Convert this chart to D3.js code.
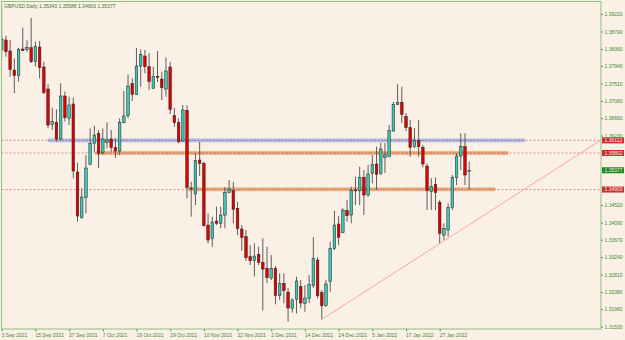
<!DOCTYPE html>
<html>
<head>
<meta charset="utf-8">
<script src="https://cdn.jsdelivr.net/npm/d3@7"></script>
<style>
  html, body { margin: 0; padding: 0; background: #faf0e6; }
  svg { display: block; }
  text { font-family: "Liberation Sans", Arial, sans-serif; }
</style>
</head>
<body>
<svg id="chart" width="625" height="340"></svg>
<script>
// GBPUSD daily bars, first bar = 3 Sep 2021
const barOpen = [1.38334,1.38580,1.38310,1.37842,1.37702,1.38359,1.38351,1.38391,1.38046,1.38408,
  1.37916,1.37375,1.36507,1.36556,1.36146,1.37203,1.36655,1.37007,1.35334,1.34210,
  1.34702,1.35523,1.36040,1.36285,1.35809,1.36064,1.36146,1.35941,1.35850,1.36547,
  1.36719,1.37506,1.37245,1.37941,1.38187,1.37923,1.37392,1.37678,1.37621,1.37375,
  1.37916,1.36719,1.36547,1.36096,1.36851,1.34940,1.34793,1.35629,1.35548,1.34030,
  1.33694,1.34129,1.34072,1.34276,1.34825,1.34874,1.34441,1.33932,1.33743,1.33251,
  1.33152,1.33310,1.33113,1.32966,1.32727,1.32961,1.32297,1.32597,1.32383,1.31982,
  1.32203,1.32513,1.32105,1.32228,1.32538,1.33170,1.32365,1.32046,1.32636,1.33457,
  1.34055,1.33849,1.34382,1.34276,1.34874,1.34874,1.35203,1.34768,1.35302,1.35531,
  1.35302,1.35686,1.35711,1.36342,1.36999,1.37048,1.36694,1.36424,1.35957,1.36104,
  1.35941,1.35481,1.34850,1.35031,1.34588,1.33784,1.33907,1.34466,1.35203,1.35727,
  1.35957,1.35343];
const barHigh = [1.39367,1.38686,1.38580,1.38130,1.38391,1.38883,1.38573,1.39129,1.38538,1.38556,
  1.38046,1.37491,1.36916,1.36876,1.37516,1.37309,1.37187,1.37162,1.35563,1.34933,
  1.35752,1.36409,1.36473,1.36367,1.36409,1.36556,1.36367,1.36170,1.36655,1.37326,
  1.37736,1.37638,1.38383,1.38351,1.38334,1.38253,1.37923,1.38310,1.37801,1.38150,
  1.38046,1.36916,1.36655,1.36982,1.36982,1.35095,1.35794,1.36072,1.35588,1.34318,
  1.34235,1.34481,1.34481,1.34965,1.35137,1.35095,1.34603,1.34030,1.33907,1.33538,
  1.33580,1.33497,1.33703,1.33497,1.33293,1.33022,1.32843,1.32843,1.32474,1.32228,
  1.32759,1.32678,1.32555,1.32801,1.33735,1.33236,1.32432,1.32678,1.33620,1.34382,
  1.34252,1.34441,1.34645,1.34973,1.35219,1.35465,1.35383,1.35506,1.35752,1.35957,
  1.36055,1.36047,1.36490,1.37063,1.37491,1.37433,1.36785,1.36613,1.36416,1.36613,
  1.35998,1.35548,1.35179,1.35203,1.34645,1.34072,1.34564,1.35260,1.35794,1.36285,
  1.36285,1.35588];
const barLow = [1.38162,1.38169,1.37677,1.37270,1.37555,1.38310,1.38292,1.38014,1.37923,1.37638,
  1.37253,1.36409,1.36367,1.36079,1.36121,1.36571,1.36490,1.35179,1.34111,1.34178,
  1.34318,1.35506,1.35833,1.35432,1.35752,1.35917,1.35833,1.35678,1.35752,1.36531,
  1.36655,1.37080,1.37228,1.37433,1.37761,1.37351,1.37375,1.37547,1.37105,1.37187,
  1.36761,1.36448,1.36040,1.36079,1.34687,1.34235,1.34522,1.35235,1.33989,1.33580,
  1.33497,1.34030,1.33949,1.33949,1.34809,1.34072,1.33784,1.33398,1.33152,1.33047,
  1.32764,1.33047,1.31927,1.32597,1.32678,1.32080,1.32186,1.32105,1.31652,1.31874,
  1.31859,1.31982,1.31898,1.32105,1.32481,1.32228,1.31711,1.32021,1.32390,1.33415,
  1.33538,1.33826,1.34111,1.34072,1.34522,1.34522,1.34276,1.34727,1.35056,1.34891,
  1.35260,1.35309,1.35695,1.36325,1.36982,1.36539,1.36342,1.35711,1.35924,1.35711,
  1.35449,1.34399,1.34399,1.34399,1.33580,1.33661,1.33743,1.34399,1.35014,1.35383,
  1.35014,1.34903];
const barClose = [1.38605,1.38292,1.37859,1.37702,1.38351,1.38317,1.38391,1.38046,1.38425,1.37899,
  1.37285,1.36490,1.36571,1.36146,1.37203,1.36670,1.36982,1.35358,1.34252,1.34719,
  1.35432,1.36040,1.36244,1.35794,1.36146,1.36121,1.35932,1.35850,1.36556,1.36711,
  1.37449,1.37245,1.37941,1.38229,1.37923,1.37555,1.37678,1.37653,1.37407,1.37818,
  1.36876,1.36547,1.36079,1.36859,1.34948,1.34925,1.35612,1.35548,1.34013,1.33661,
  1.34104,1.34072,1.34276,1.34825,1.34916,1.34416,1.33940,1.33728,1.33226,1.33152,
  1.33268,1.33113,1.32948,1.32734,1.32966,1.32297,1.32597,1.32415,1.31989,1.32186,
  1.32653,1.32112,1.32235,1.32562,1.33211,1.32292,1.32046,1.32580,1.33457,1.34030,
  1.33728,1.34399,1.34259,1.34874,1.34891,1.35203,1.34768,1.35285,1.35523,1.35277,
  1.35900,1.35752,1.36350,1.36999,1.37039,1.36753,1.36433,1.35941,1.36104,1.35957,
  1.35531,1.34874,1.34973,1.34835,1.33826,1.33949,1.34466,1.35203,1.35727,1.35957,
  1.35260,1.35377];

const xTickBars = [0, 8, 16, 24, 32, 40, 48, 56, 64, 72, 80, 88, 96, 104];
const xTickLabels = ["3 Sep 2021","15 Sep 2021","27 Sep 2021","7 Oct 2021","19 Oct 2021","29 Oct 2021",
  "10 Nov 2021","22 Nov 2021","2 Dec 2021","14 Dec 2021","24 Dec 2021","5 Jan 2022","17 Jan 2022","27 Jan 2022"];
const yTickValues = [1.39220,1.38790,1.38360,1.37940,1.37510,1.37080,1.36660,1.36230,1.35800,1.35380,
  1.34950,1.34520,1.34090,1.33670,1.33240,1.32810,1.32380,1.31960,1.31530];

// horizontal levels (price) and zones
const levelPrices = [1.36112, 1.35802, 1.34903];
const zoneNames = ["blue", "orange", "orange"];
const zonePrices = [1.36112, 1.35802, 1.34910];
const zoneStartBar = [11, 22.2, 44.3];
const zoneEndBar = [124.3, 120.3, 117.2];
const trendBars = [76, 142.3];
const trendPrices = [1.31711, 1.36120];
const priceTags = [
  {price: 1.36112, kind: "red"},
  {price: 1.35802, kind: "red"},
  {price: 1.35377, kind: "green"},
  {price: 1.34903, kind: "red"}
];
const title = "GBPUSD,Daily  1.35343 1.35588 1.34903 1.35377";

const svg = d3.select("#chart");
const W = 625, H = 340;
const plot = {left: 1.5, right: 601, top: 1.5, bottom: 329};

const x = d3.scaleLinear().domain([0, 142.3]).range([1.7, 601]);
const y = d3.scaleLinear().domain([1.31530, 1.39220]).range([326.7, 14]);

svg.append("rect").attr("width", W).attr("height", H).attr("fill", "#faf0e6");

svg.append("defs").append("clipPath").attr("id", "plotclip")
  .append("rect")
  .attr("x", plot.left).attr("y", plot.top)
  .attr("width", plot.right - plot.left).attr("height", plot.bottom - plot.top);

const g = svg.append("g").attr("clip-path", "url(#plotclip)");

// zones
const zoneColors = {blue: "#b3c5e8", orange: "#e9b98c"};
const zoneLine = {blue: "#8a6fa8", orange: "#a8603a"};
zonePrices.forEach((p, i) => {
  const x0 = x(zoneStartBar[i]), x1 = x(zoneEndBar[i]);
  g.append("rect")
    .attr("x", x0).attr("y", y(p) - 2)
    .attr("width", x1 - x0).attr("height", 4)
    .attr("fill", zoneColors[zoneNames[i]]);
  g.append("line")
    .attr("x1", x0).attr("x2", x1)
    .attr("y1", y(p)).attr("y2", y(p))
    .attr("stroke", zoneLine[zoneNames[i]])
    .attr("stroke-width", 0.7)
    .attr("stroke-dasharray", "1.5,1.5");
});

// dashed price levels
g.selectAll("line.level").data(levelPrices).join("line")
  .attr("class", "level")
  .attr("x1", plot.left).attr("x2", plot.right)
  .attr("y1", d => y(d)).attr("y2", d => y(d))
  .attr("stroke", "#e05a5a")
  .attr("stroke-width", 0.7)
  .attr("stroke-dasharray", "2,2");

// candles
const bars = d3.range(barOpen.length).map(i => ({
  i, o: barOpen[i], h: barHigh[i], l: barLow[i], c: barClose[i]
}));

g.selectAll("line.wick").data(bars).join("line")
  .attr("class", "wick")
  .attr("x1", d => x(d.i)).attr("x2", d => x(d.i))
  .attr("y1", d => y(d.h)).attr("y2", d => y(d.l))
  .attr("stroke", "#4d4d4d")
  .attr("stroke-width", 0.9);

g.selectAll("rect.body").data(bars).join("rect")
  .attr("class", "body")
  .attr("x", d => x(d.i) - 1.3)
  .attr("width", 2.6)
  .attr("y", d => y(Math.max(d.o, d.c)))
  .attr("height", d => Math.max(0.8, Math.abs(y(d.o) - y(d.c))))
  .attr("fill", d => d.c > d.o ? "#3cc8b4" : "#e00000")
  .attr("stroke", "#1e1e1e")
  .attr("stroke-width", 0.5);

// trendline
g.append("line")
  .attr("x1", x(trendBars[0])).attr("y1", y(trendPrices[0]))
  .attr("x2", x(trendBars[1])).attr("y2", y(trendPrices[1]))
  .attr("stroke", "#f4a292")
  .attr("stroke-width", 0.9);

// frame
svg.append("rect")
  .attr("x", plot.left).attr("y", plot.top)
  .attr("width", plot.right - plot.left).attr("height", plot.bottom - plot.top)
  .attr("fill", "none")
  .attr("stroke", "#8cc47c")
  .attr("stroke-width", 1);

// right price axis (ticks hidden under a price tag are left out)
const visibleTicks = yTickValues.filter(v =>
  !priceTags.some(t => Math.abs(y(t.price) - y(v)) < 3.5));
const yAxis = svg.append("g")
  .attr("transform", `translate(${plot.right},0)`)
  .call(d3.axisRight(y).tickValues(visibleTicks).tickSize(2).tickPadding(1.5)
    .tickFormat(d3.format(".5f")));
yAxis.select(".domain").remove();
yAxis.selectAll("line").attr("stroke", "#5a9a4a");
yAxis.selectAll("text").attr("fill", "#3d8a2e").attr("font-size", 5)
  .attr("font-family", "Liberation Sans, Arial, sans-serif");

// bottom date axis
const xAxis = svg.append("g")
  .attr("transform", `translate(0,${plot.bottom})`)
  .call(d3.axisBottom(x).tickValues(xTickBars).tickSize(2.5).tickPadding(1.5)
    .tickFormat((d, i) => xTickLabels[i]));
xAxis.select(".domain").remove();
xAxis.selectAll("line").attr("stroke", "#5a9a4a");
xAxis.selectAll("text").attr("fill", "#3d8a2e").attr("font-size", 5)
  .attr("text-anchor", "start").attr("dx", -0.5)
  .attr("font-family", "Liberation Sans, Arial, sans-serif");

// price tags on the axis
const tagColors = {red: "#c8302e", green: "#1f8a1f"};
const tags = svg.selectAll("g.tag").data(priceTags).join("g")
  .attr("class", "tag")
  .attr("transform", d => `translate(${plot.right + 1},${y(d.price)})`);
tags.append("rect")
  .attr("x", 0).attr("y", -3)
  .attr("width", 22).attr("height", 6)
  .attr("fill", d => tagColors[d.kind]);
tags.append("text")
  .attr("x", 2.5).attr("y", 1.8)
  .attr("font-size", 5)
  .attr("fill", "#fbeaea")
  .text(d => d3.format(".5f")(d.price));

// header
svg.append("text")
  .attr("x", 4).attr("y", 7.5)
  .attr("font-size", 5)
  .attr("fill", "#3d7a35")
  .text(title);
</script>
</body>
</html>
